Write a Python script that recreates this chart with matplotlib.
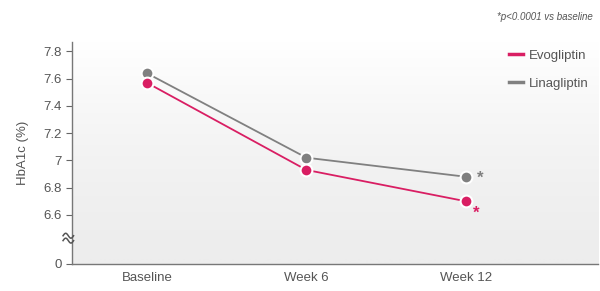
import numpy as np
import matplotlib.pyplot as plt
from matplotlib.colors import LinearSegmentedColormap

timepoints = ["Baseline", "Week 6", "Week 12"]
evogliptin = [7.57, 6.93, 6.70]
linagliptin = [7.64, 7.02, 6.88]
tick_values = [7.8, 7.6, 7.4, 7.2, 7.0, 6.8, 6.6]
tick_labels = ["7.8", "7.6", "7.4", "7.2", "7", "6.8", "6.6"]

# broken axis: "0" sits below 6.6
zero_pos = 6.24
ymin, ymax = zero_pos, 7.87

pink = "#d91e63"
grey = "#808080"
text_c = "#555555"

plt.rcParams["font.family"] = ["Liberation Sans", "DejaVu Sans"]

fig = plt.figure(figsize=(6, 2.91), dpi=100)
ax = fig.add_axes([0.12, 0.093, 0.877, 0.763])

x = np.arange(len(timepoints))
ax.set_xlim(-0.47, 2.83)
ax.set_ylim(ymin, ymax)

# soft gradient background
grad = np.linspace(1, 0, 256).reshape(-1, 1) ** 1.5
ax.imshow(grad, extent=[-0.47, 2.83, ymin, ymax], aspect="auto",
          cmap=LinearSegmentedColormap.from_list("g", ["#ededed", "#ffffff"]),
          origin="upper", zorder=0)

ax.plot(x, linagliptin, color=grey, lw=1.3, marker="o", ms=8.5,
        mec="white", mew=1.5, label="Linagliptin", zorder=3)
ax.plot(x, evogliptin, color=pink, lw=1.3, marker="o", ms=8.5,
        mec="white", mew=1.5, label="Evogliptin", zorder=3)

ax.annotate("*", (x[-1], linagliptin[-1]), xytext=(8, -4), textcoords="offset points",
            color=grey, fontsize=12, fontweight="bold")
ax.annotate("*", (x[-1], evogliptin[-1]), xytext=(5, -12), textcoords="offset points",
            color=pink, fontsize=12, fontweight="bold")

ax.set_yticks(tick_values + [zero_pos])
ax.set_yticklabels(tick_labels + ["0"])
ax.set_xticks(x)
ax.set_xticklabels(timepoints)
ax.tick_params(axis="y", direction="out", length=4, color="#666666", labelcolor=text_c, labelsize=9.5)
ax.tick_params(axis="x", length=0, labelcolor=text_c, labelsize=9.5, pad=6)

for s in ["top", "right"]:
    ax.spines[s].set_visible(False)
for s in ["left", "bottom"]:
    ax.spines[s].set_color("#777777")
    ax.spines[s].set_linewidth(1)

ax.set_ylabel("HbA1c (%)", color=text_c, fontsize=9.5, labelpad=10)

# axis break marks (two small tildes left of the axis)
bx = np.linspace(-0.017, 0.003, 40)
for dy in (0.0, 0.022):
    by = 0.105 + dy + 0.011 * np.sin((bx + 0.017) / 0.020 * 2 * np.pi)
    ax.plot(bx, by, transform=ax.transAxes, color="#555555", lw=1.1, clip_on=False, zorder=5)

handles, labels = ax.get_legend_handles_labels()
leg = ax.legend(handles[::-1], labels[::-1], loc="upper right", bbox_to_anchor=(1.005, 1.02),
                frameon=False, fontsize=9.5, handlelength=1.0, handletextpad=0.5,
                labelspacing=1.2, labelcolor=text_c)
for h in leg.legend_handles:
    h.set_marker("")
    h.set_linewidth(2.5)

fig.text(0.988, 0.94, "*p<0.0001 vs baseline", ha="right", va="center",
         fontsize=7, style="italic", color=text_c)

fig.savefig("out.png", dpi=100)
